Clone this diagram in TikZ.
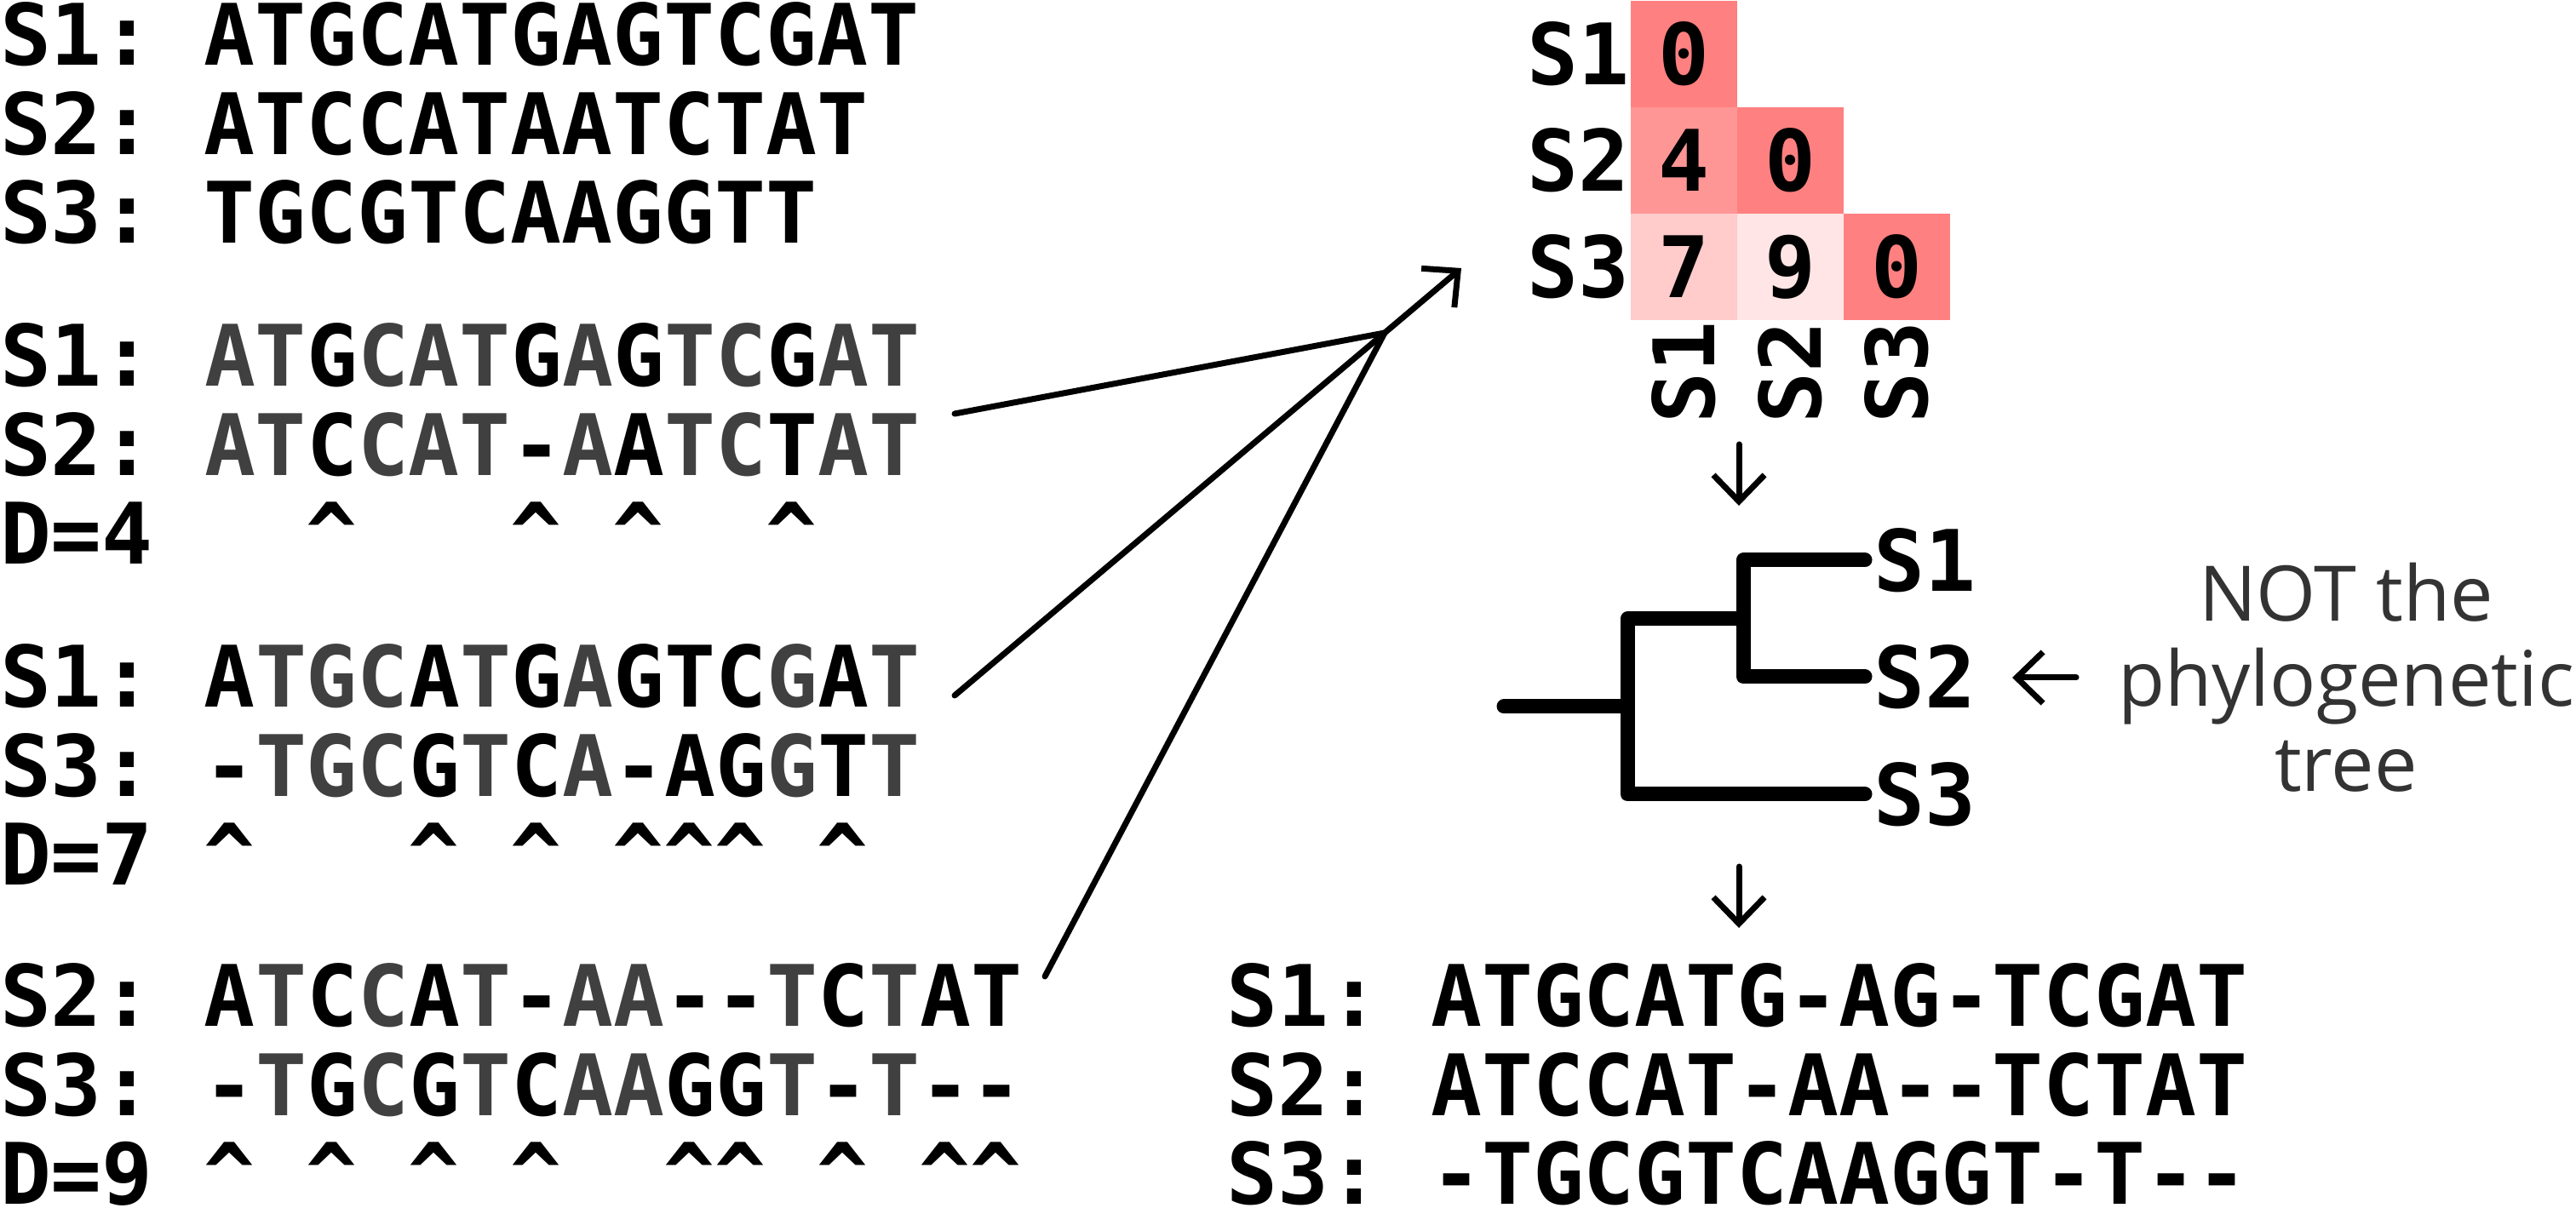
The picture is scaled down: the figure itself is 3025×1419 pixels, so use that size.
\documentclass[tikz,border=0pt]{standalone}
\usepackage{fontspec}
\usetikzlibrary{arrows.meta}
\newfontfamily\seqfont{DejaVu Sans Mono Bold}[Ligatures=TeXOff]
\newfontfamily\notefont{Open Sans}
\definecolor{mgray}{HTML}{404040}
\definecolor{notegray}{HTML}{333333}
\definecolor{dzero}{HTML}{FF8080}
\definecolor{dfour}{HTML}{FF9696}
\definecolor{dseven}{HTML}{FFCBCB}
\definecolor{dnine}{HTML}{FFE5E5}
\newcommand\G[1]{\textcolor{mgray}{#1}}
\newcommand\cc{\textasciicircum}
\tikzset{
  seq/.style={font=\seqfont\fontsize{24.915pt}{30pt}\selectfont, inner sep=0pt, outer sep=0pt, anchor=base west},
  rowlab/.style={seq, anchor=base east},
  collab/.style={seq, anchor=east, rotate=90},
  cell/.style={seq, anchor=center, minimum size=31.25pt},
  treeline/.style={line width=4.25pt, line cap=round, line join=round},
  fanline/.style={line width=1.75pt, line cap=round, line join=round},
  glyarrow/.style={line width=1.75pt, line cap=round, -{Straight Barb[length=7.75pt,width=15pt]}},
  note/.style={font=\notefont\fontsize{22.5pt}{25pt}\selectfont, text=notegray, align=center, inner sep=0pt}
}
\begin{document}
\begin{tikzpicture}[x=0.25pt,y=-0.25pt]
\useasboundingbox (0,0) rectangle (3025,1419);

% block 0: raw sequences
\node[seq] (a0s1) at (0,76.8)  {S1:~ATGCATGAGTCGAT};
\node[seq] (a0s2) at (0,181.3) {S2:~ATCCATAATCTAT};
\node[seq] (a0s3) at (0,285.8) {S3:~TGCGTCAAGGTT};

% block 1: S1 vs S2
\node[seq] (a1s1) at (0,453.8) {S1:~\G{AT}G\G{CAT}G\G{A}G\G{TC}G\G{AT}};
\node[seq] (a1s2) at (0,558.3) {S2:~\G{AT}C\G{CAT}-\G{A}A\G{TC}T\G{AT}};
\node[seq] (a1d)  at (0,662.8) {D=4~~~\cc~~~\cc~\cc~~\cc};

% block 2: S1 vs S3
\node[seq] (a2s1) at (0,830.8)  {S1:~A\G{TGC}A\G{T}G\G{A}GTC\G{G}A\G{T}};
\node[seq] (a2s3) at (0,935.3)  {S3:~-\G{TGC}G\G{T}C\G{A}-AG\G{G}T\G{T}};
\node[seq] (a2d)  at (0,1039.8) {D=7~\cc~~~\cc~\cc~\cc\cc\cc~\cc};

% block 3: S2 vs S3
\node[seq] (a3s2) at (0,1205.8) {S2:~A\G{T}C\G{C}A\G{T}-\G{AA}--\G{T}C\G{T}AT};
\node[seq] (a3s3) at (0,1310.3) {S3:~-\G{T}G\G{C}G\G{T}C\G{AA}GG\G{T}-\G{T}--};
\node[seq] (a3d)  at (0,1414.8) {D=9~\cc~\cc~\cc~\cc~~\cc\cc~\cc~\cc\cc};

% final multiple alignment
\node[seq] (r1) at (1440,1205.8) {S1:~ATGCATG-AG-TCGAT};
\node[seq] (r2) at (1440,1310.3) {S2:~ATCCAT-AA--TCTAT};
\node[seq] (r3) at (1440,1414.8) {S3:~-TGCGTCAAGGT-T--};

% distance matrix
\node[cell, fill=dzero]  (m11) at (1977.5,63.5)  {0};
\node[cell, fill=dfour]  (m21) at (1977.5,188.5) {4};
\node[cell, fill=dzero]  (m22) at (2102.5,188.5) {0};
\node[cell, fill=dseven] (m31) at (1977.5,313.5) {7};
\node[cell, fill=dnine]  (m32) at (2102.5,313.5) {9};
\node[cell, fill=dzero]  (m33) at (2227.5,313.5) {0};
\node[rowlab] (mr1) at (1913,99.8)  {S1};
\node[rowlab] (mr2) at (1913,224.8) {S2};
\node[rowlab] (mr3) at (1913,349.8) {S3};
\node[collab] (mc1) at (1977.5,378) {S1};
\node[collab] (mc2) at (2102.5,378) {S2};
\node[collab] (mc3) at (2227.5,378) {S3};

% fan of connectors into the matrix
\coordinate (src1) at (1121,486);
\coordinate (src2) at (1121,817);
\coordinate (src3) at (1227,1147);
\coordinate (join) at (1626,391);
\coordinate (tipM) at (1716,315);
\draw[fanline] (src1) -- (join);
\draw[fanline] (src2) -- (join);
\draw[fanline] (src3) -- (join);
\draw[glyarrow] (join) -- (tipM);

% guide tree
\coordinate (root) at (1766,830);
\coordinate (n0) at (1911,830);
\coordinate (n1) at (2047,727);
\coordinate (l1) at (2190,658);
\coordinate (l2) at (2190,795);
\coordinate (l3) at (2190,933);
\draw[treeline] (root) -- (n0);
\draw[treeline] (l1) -| (n1) |- (l2);
\draw[treeline] (n1) -| (n0) |- (l3);
\node[seq] (t1) at (2200,694.3) {S1};
\node[seq] (t2) at (2200,831.3) {S2};
\node[seq] (t3) at (2200,969.3) {S3};

% down arrows
\coordinate (d1a) at (2042,522);
\coordinate (d1b) at (2042,594);
\coordinate (d2a) at (2042,1018);
\coordinate (d2b) at (2042,1090);
\draw[glyarrow] (d1a) -- (d1b);
\draw[glyarrow] (d2a) -- (d2b);

% note
\node[note, anchor=north] (note) at (2755,660) {NOT the\\phylogenetic\\tree};
\coordinate (la) at (2438,796);
\coordinate (lb) at (2363,796);
\draw[glyarrow] (la) -- (lb);
\end{tikzpicture}
\end{document}
